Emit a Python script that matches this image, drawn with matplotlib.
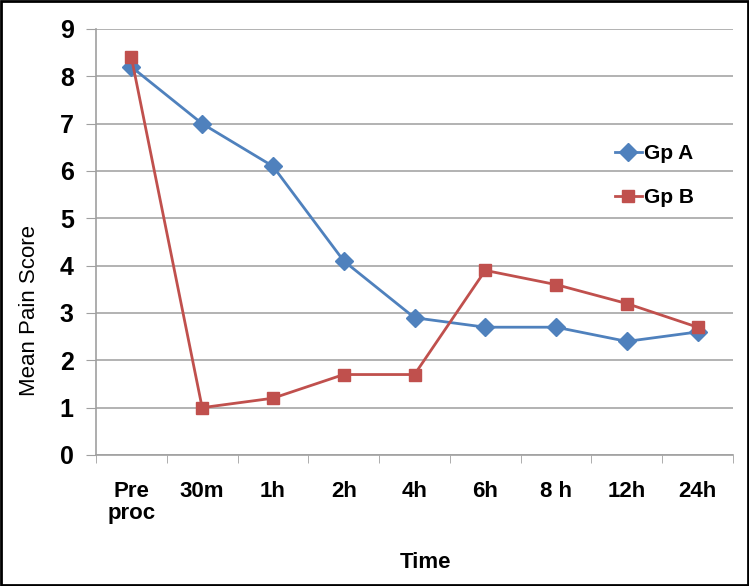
import matplotlib
matplotlib.use('Agg')
import matplotlib.pyplot as plt
from matplotlib.ticker import FixedLocator, NullFormatter

categories = ['Pre\nproc', '30m', '1h', '2h', '4h', '6h', '8 h', '12h', '24h']
gp_a = [8.2, 7.0, 6.1, 4.1, 2.9, 2.7, 2.7, 2.4, 2.6]
gp_b = [8.4, 1.0, 1.2, 1.7, 1.7, 3.9, 3.6, 3.2, 2.7]
y_ticks = list(range(0, 10))

plt.rcParams['font.family'] = ['Liberation Sans', 'DejaVu Sans']

fig = plt.figure(figsize=(7.49, 5.86), dpi=100)
ax = fig.add_axes([96/749, 1-455/586, (733-96)/749, (455-29)/586])

x = list(range(len(categories)))
ax.plot(x, gp_a, color='#4F81BD', marker='D', markersize=9, linewidth=2, label='Gp A')
ax.plot(x, gp_b, color='#C0504D', marker='s', markersize=8, linewidth=2, label='Gp B')

ax.set_xlim(-0.5, len(categories) - 0.5)
ax.set_ylim(0, 9)
ax.set_yticks(y_ticks)
ax.set_yticklabels([str(v) for v in y_ticks], fontsize=18, fontweight='bold')
ax.set_xticks(x)
ax.set_xticklabels(categories, fontsize=16, fontweight='bold', linespacing=1.05)
ax.tick_params(axis='x', length=0, pad=19)
ax.xaxis.set_minor_locator(FixedLocator([i - 0.5 for i in range(len(categories) + 1)]))
ax.xaxis.set_minor_formatter(NullFormatter())
ax.tick_params(axis='x', which='minor', length=6, color='#A0A0A0', direction='out')
ax.tick_params(axis='y', length=7, color='#A0A0A0', pad=9)

ax.grid(axis='y', color='#A6A6A6', linewidth=1.2)
ax.set_axisbelow(True)
for side in ['top', 'right']:
    ax.spines[side].set_visible(False)
for side in ['left', 'bottom']:
    ax.spines[side].set_color('#A0A0A0')
    ax.spines[side].set_linewidth(1.2)

ax.set_ylabel('Mean Pain Score', fontsize=16)
ax.yaxis.set_label_coords(-0.088, 0.34)
ax.set_xlabel('Time', fontsize=16, fontweight='bold')
ax.xaxis.set_label_coords(0.517, -0.228)

leg = ax.legend(loc='upper left', bbox_to_anchor=(0.785, 0.773), frameon=False,
                prop={'weight': 'bold', 'size': 15},
                handlelength=1.3, handletextpad=0.1, labelspacing=1.2)

# black border around the picture
fig.patches.append(plt.Rectangle((0.001, 0.001), 0.997, 0.997, transform=fig.transFigure,
                                 fill=False, edgecolor='black', linewidth=2))

fig.savefig('out.png', dpi=100)
